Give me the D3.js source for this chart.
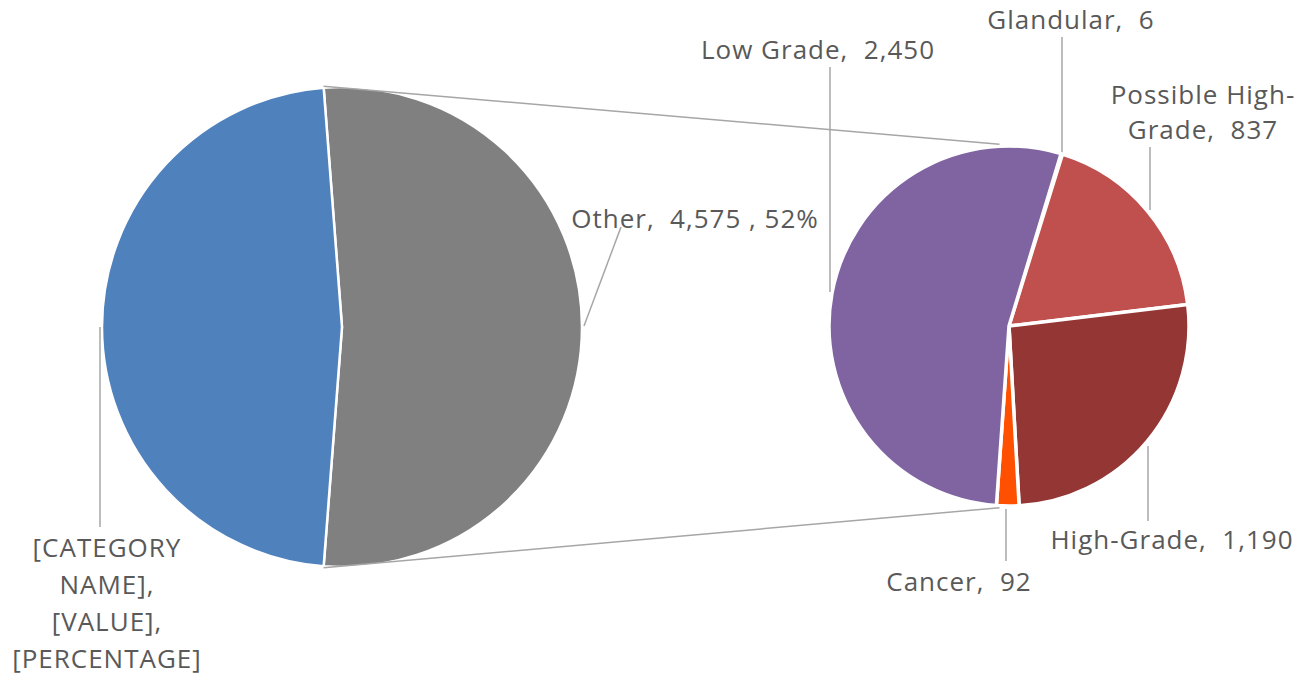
<!DOCTYPE html>
<html>
<head>
<meta charset="utf-8">
<script src="https://cdn.jsdelivr.net/npm/d3@7"></script>
<style>
  html, body { margin: 0; padding: 0; background: #fff; }
  svg text { font-family: "Open Sans", "Noto Sans", sans-serif; fill: #595959; white-space: pre; letter-spacing: 1px; }
</style>
</head>
<body>
<svg id="chart" width="1299" height="681"></svg>
<script>
// Main pie: one category shown on its own, the rest rolled up into "Other"
const mainCategories = ["[CATEGORY NAME]", "Other"];
const mainValues = [4150, 4575];

// Breakdown of "Other", drawn clockwise in this order
const detailCategories = ["Glandular", "Possible High-Grade", "High-Grade", "Cancer", "Low Grade"];
const detailValues = [6, 837, 1190, 92, 2450];

const mainColors = ["#4F81BD", "#808080"];
const detailColors = ["#8064A2", "#C0504D", "#943634", "#FF4F00", "#8064A2"];

const svg = d3.select("#chart");
const fmt = d3.format(",");
const pct = d3.format(".0%");

// ---- geometry ----
const main = { cx: 342, cy: 327, r: 240 };
const detail = { cx: 1009, cy: 326, r: 180 };
const deg = Math.PI / 180;

const mainTotal = d3.sum(mainValues);
const otherFrac = mainValues[1] / mainTotal;

// "Other" is centred on the right-hand side, facing the breakdown pie
const mainStart = Math.PI / 2 - Math.PI * otherFrac;
const mainPie = d3.pie().sort(null).value(d => d.v)
  .startAngle(mainStart).endAngle(mainStart + 2 * Math.PI);
const mainArcs = mainPie(mainCategories.map((c, i) => ({ c, v: mainValues[i] })).reverse());

const detailStart = 16.8 * deg;
const detailPie = d3.pie().sort(null).value(d => d.v)
  .startAngle(detailStart).endAngle(detailStart + 2 * Math.PI);
const detailArcs = detailPie(detailCategories.map((c, i) => ({ c, v: detailValues[i] })));

const pt = (o, a, r) => [o.cx + r * Math.sin(a), o.cy - r * Math.cos(a)];

// ---- main pie ----
const mainArc = d3.arc().innerRadius(0).outerRadius(main.r);
svg.append("g").attr("transform", `translate(${main.cx},${main.cy})`)
  .selectAll("path").data(mainArcs).join("path")
  .attr("d", mainArc)
  .attr("fill", d => mainColors[mainCategories.indexOf(d.data.c)])
  .attr("stroke", "#fff").attr("stroke-width", 2.5).attr("stroke-linejoin", "round");

// ---- breakdown pie ----
const detailArc = d3.arc().innerRadius(0).outerRadius(detail.r);
svg.append("g").attr("transform", `translate(${detail.cx},${detail.cy})`)
  .selectAll("path").data(detailArcs).join("path")
  .attr("d", detailArc)
  .attr("fill", d => detailColors[detailCategories.indexOf(d.data.c)])
  .attr("stroke", "#fff").attr("stroke-width", 3.5).attr("stroke-linejoin", "round");

// ---- connector lines between the pies ----
const otherArc = mainArcs[0];
const conn = svg.append("g")
  .attr("stroke", "#A6A6A6").attr("stroke-width", 1.5).attr("fill", "none");
const topA = pt(main, otherArc.startAngle, main.r + 1.5);
const botA = pt(main, otherArc.endAngle, main.r + 1.5);
const topB = pt(detail, -3 * deg, detail.r + 2);
const botB = pt(detail, 183 * deg, detail.r + 2);
conn.append("line").attr("x1", topA[0]).attr("y1", topA[1]).attr("x2", topB[0]).attr("y2", topB[1]);
conn.append("line").attr("x1", botA[0]).attr("y1", botA[1]).attr("x2", botB[0]).attr("y2", botB[1]);

// ---- data labels with leader lines ----
const FS = 26;
const labelLayout = {
  "[CATEGORY NAME]": { x: 107, y: 557, lh: 37, lines: ["[CATEGORY", "NAME],", "[VALUE],", "[PERCENTAGE]"], leader: [[100, 327], [100, 527]] },
  "Other": { x: 695, y: 228, leader: [[584, 326], [621, 227]] },
  "Low Grade": { x: 818, y: 59, leader: [[830, 67], [830, 292]] },
  "Glandular": { x: 1071, y: 29, leader: [[1062, 37], [1062, 152]] },
  "Possible High-Grade": { x: 1203, y: 104, lh: 35, lines: ["Possible High-", "Grade,  {v}"], leader: [[1150, 147], [1150, 210]] },
  "High-Grade": { x: 1172, y: 549, leader: [[1148, 446], [1148, 521]] },
  "Cancer": { x: 959, y: 591, leader: [[1006, 509], [1006, 561]] }
};

const labels = [];
labels.push({ c: mainCategories[0], lines: labelLayout[mainCategories[0]].lines });
labels.push({ c: "Other", lines: [`Other,  ${fmt(mainValues[1])} , ${pct(otherFrac)}`] });
detailCategories.forEach((c, i) => {
  const L = labelLayout[c];
  const lines = L.lines ? L.lines.map(s => s.replace("{v}", fmt(detailValues[i])))
                        : [`${c},  ${fmt(detailValues[i])}`];
  labels.push({ c, lines });
});

const leaders = svg.append("g").attr("stroke", "#A6A6A6").attr("stroke-width", 1.5).attr("fill", "none");
labels.forEach(l => {
  const L = labelLayout[l.c];
  leaders.append("line")
    .attr("x1", L.leader[0][0]).attr("y1", L.leader[0][1])
    .attr("x2", L.leader[1][0]).attr("y2", L.leader[1][1]);
});

const textG = svg.append("g");
labels.forEach(l => {
  const L = labelLayout[l.c];
  const t = textG.append("text")
    .attr("text-anchor", "middle")
    .attr("font-size", FS);
  l.lines.forEach((s, j) => {
    t.append("tspan").attr("x", L.x).attr("y", L.y + j * (L.lh || 0)).text(s);
  });
});
</script>
</body>
</html>
